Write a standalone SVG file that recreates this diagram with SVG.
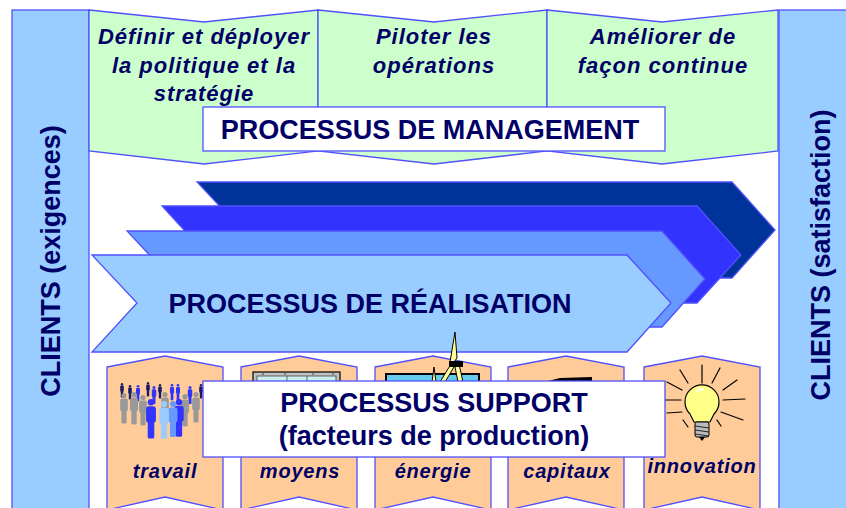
<svg xmlns="http://www.w3.org/2000/svg" xmlns:xlink="http://www.w3.org/1999/xlink" width="846" height="508" viewBox="0 0 846 508">
  <style>
    .edge { stroke: #5050FF; stroke-width: 1.3; stroke-linejoin: miter; }
    .bar { fill: #99CCFF; }
    .mgmt { fill: #CCFFCC; }
    .sup { fill: #FFCC99; }
    .box { fill: #FFFFFF; }
    .title { font-family: "Liberation Sans", Arial, sans-serif; font-weight: bold; font-size: 27px; fill: #000066; text-anchor: middle; }
    .ital { font-family: "Liberation Sans", Arial, sans-serif; font-weight: bold; font-style: italic; font-size: 22px; letter-spacing: 1px; fill: #000066; text-anchor: middle; }
    .lbl { font-family: "Liberation Sans", Arial, sans-serif; font-weight: bold; font-style: italic; font-size: 20px; letter-spacing: 0.8px; fill: #000066; text-anchor: middle; }
    .ink { stroke: #000000; stroke-width: 1.2; fill: none; stroke-linecap: round; }
  </style>
  <defs>
    <!-- simple standing figure, about 36 units tall -->
    <g id="person">
      <circle cx="0" cy="3" r="3"/>
      <rect x="-4.5" y="6.5" width="9" height="15" rx="2.5"/>
      <rect x="-3" y="19" width="6" height="17" rx="1.5"/>
    </g>
  </defs>

  <rect width="846" height="508" fill="#FFFFFF"/>

  <!-- customer bars -->
  <g id="clients-left">
    <rect class="bar edge" x="12" y="10" width="77" height="500"/>
    <text class="title" transform="translate(60 261) rotate(-90)">CLIENTS (exigences)</text>
  </g>
  <g id="clients-right">
    <rect class="bar edge" x="779" y="10" width="70" height="500"/>
    <text class="title" transform="translate(830 255) rotate(-90)">CLIENTS (satisfaction)</text>
  </g>

  <!-- management processes -->
  <g id="mgmt-definir">
    <polygon class="mgmt edge" points="89,10 204,22 318,10 318,151 204,164 89,151"/>
    <text class="ital" x="204" y="44">Définir et déployer</text>
    <text class="ital" x="204" y="73">la politique et la</text>
    <text class="ital" x="204" y="101">stratégie</text>
  </g>
  <g id="mgmt-piloter">
    <polygon class="mgmt edge" points="318,10 434,22 547,10 547,151 434,164 318,151"/>
    <text class="ital" x="434" y="44">Piloter les</text>
    <text class="ital" x="434" y="73">opérations</text>
  </g>
  <g id="mgmt-ameliorer">
    <polygon class="mgmt edge" points="547,10 662,22 778,10 778,151 662,164 547,151"/>
    <text class="ital" x="663" y="44">Améliorer de</text>
    <text class="ital" x="663" y="73">façon continue</text>
  </g>
  <g id="mgmt-title">
    <rect class="box edge" x="203" y="107" width="462" height="44"/>
    <text class="title" x="430" y="139">PROCESSUS DE MANAGEMENT</text>
  </g>

  <!-- realisation process: stacked chevrons -->
  <g id="realisation">
    <polygon class="edge" fill="#003399" points="197,182 732,182 775,230 732,278 197,278 242,230"/>
    <polygon class="edge" fill="#3333FF" points="162,206 697,206 741,255 697,303 162,303 207,255"/>
    <polygon class="edge" fill="#6699FF" points="127,231 662,231 705,279 662,327 127,327 172,279"/>
    <polygon class="edge" fill="#99CCFF" points="92,255 627,255 671,303 627,352 92,352 137,303"/>
    <text class="title" x="370" y="313">PROCESSUS DE RÉALISATION</text>
  </g>

  <!-- support factors -->
  <g id="support-travail">
    <polygon class="sup edge" points="107,367 165,356 223,367 223,510 165,497 107,510"/>
    <g fill="#1a1a66">
      <use xlink:href="#person" transform="translate(122 383) scale(0.4)"/>
      <use xlink:href="#person" transform="translate(130 385) scale(0.4)"/>
      <use xlink:href="#person" transform="translate(148 382) scale(0.4)"/>
      <use xlink:href="#person" transform="translate(160 384) scale(0.4)"/>
      <use xlink:href="#person" transform="translate(201 384) scale(0.4)"/>
    </g>
    <g fill="#3333FF">
      <use xlink:href="#person" transform="translate(138 385) scale(0.45)"/>
      <use xlink:href="#person" transform="translate(154 386) scale(0.5)"/>
      <use xlink:href="#person" transform="translate(172 384) scale(0.45)"/>
      <use xlink:href="#person" transform="translate(178 384) scale(0.45)"/>
      <use xlink:href="#person" transform="translate(190 386) scale(0.5)"/>
    </g>
    <g fill="#999999">
      <use xlink:href="#person" transform="translate(124 393) scale(0.85)"/>
      <use xlink:href="#person" transform="translate(134 392) scale(0.9)"/>
      <use xlink:href="#person" transform="translate(143 395) scale(0.85)"/>
      <use xlink:href="#person" transform="translate(165 392) scale(0.85)"/>
      <use xlink:href="#person" transform="translate(185 394) scale(0.9)"/>
      <use xlink:href="#person" transform="translate(196 392) scale(0.85)"/>
    </g>
    <use xlink:href="#person" fill="#3333FF" transform="translate(151 399) scale(1.1)"/>
    <use xlink:href="#person" fill="#3333FF" transform="translate(179 399) scale(1.05)"/>
    <use xlink:href="#person" fill="#6699FF" transform="translate(173 401) scale(1.0)"/>
    <use xlink:href="#person" fill="#99CCFF" transform="translate(164 401) scale(1.05)"/>
    <text class="lbl" x="165" y="478">travail</text>
  </g>
  <g id="support-moyens">
    <polygon class="sup edge" points="241,367 299,356 357,367 357,510 299,497 241,510"/>
    <rect x="253" y="372" width="87" height="20" fill="#C0C0C0" stroke="#000" stroke-width="1.2"/>
    <rect x="257" y="376" width="79" height="14" fill="#CCEEEE" stroke="#444" stroke-width="0.8"/>
    <line x1="287" y1="376" x2="287" y2="390" stroke="#444" stroke-width="0.8"/>
    <line x1="307" y1="376" x2="307" y2="390" stroke="#444" stroke-width="0.8"/>
    <g fill="#333">
      <circle cx="263" cy="374" r="0.8"/><circle cx="285" cy="374" r="0.8"/>
      <circle cx="313" cy="374" r="0.8"/><circle cx="333" cy="374" r="0.8"/>
    </g>
    <text class="lbl" x="300" y="478">moyens</text>
  </g>
  <g id="support-energie">
    <polygon class="sup edge" points="375,367 433,356 491,367 491,510 433,497 375,510"/>
    <rect x="386" y="374" width="93" height="20" fill="#66CCEE" stroke="#000" stroke-width="2"/>
    <g fill="#FFFF99" stroke="#000" stroke-width="1" stroke-linejoin="round">
      <polygon points="455,332 457,358 454,362 450,362"/>
      <polygon points="451,364 440,382 445,382 454,367"/>
      <polygon points="455,367 458,382 463,382 459,364"/>
      <polygon points="434,367 436,382 432,382"/>
    </g>
    <rect x="449" y="361" width="14" height="6" fill="#000"/>
    <text class="lbl" x="433" y="478">énergie</text>
  </g>
  <g id="support-capitaux">
    <polygon class="sup edge" points="508,367 566,356 624,367 624,510 566,497 508,510"/>
    <polygon points="544,382 560,378 592,377 592,382" fill="#000"/>
    <text class="lbl" x="567" y="478">capitaux</text>
  </g>
  <g id="support-innovation">
    <polygon class="sup edge" points="644,367 702,356 760,367 760,510 702,497 644,510"/>
    <g class="ink">
      <path d="M680,370 L688,383"/>
      <path d="M702,365 L702,383"/>
      <path d="M720,368 L712,383"/>
      <path d="M737,380 L723,390"/>
      <path d="M667,382 L682,390"/>
      <path d="M665,400 L681,400"/>
      <path d="M723,400 L745,399"/>
      <path d="M667,413 L682,412"/>
      <path d="M721,412 L743,420"/>
      <path d="M683,420 L688,427"/>
      <path d="M717,420 L721,426"/>
    </g>
    <path d="M690,414 A17,17 0 1 1 714,414 L710,422 L694,422 Z" fill="#FFFF88" stroke="#000" stroke-width="1.2"/>
    <path d="M696,392 Q699,388 704,390" stroke="#FFFFFF" stroke-width="2" fill="none"/>
    <rect x="695" y="422" width="14" height="15" rx="2" fill="#BBBBBB" stroke="#000" stroke-width="1"/>
    <path d="M695,426 L709,428 M695,430 L709,432 M695,434 L709,436" stroke="#000" stroke-width="0.8"/>
    <path d="M699,437 L705,437 L702,441 Z" fill="#000"/>
    <text class="lbl" x="702" y="473">innovation</text>
  </g>
  <g id="support-title">
    <rect class="box edge" x="203" y="381" width="462" height="76"/>
    <text class="title" x="434" y="412">PROCESSUS SUPPORT</text>
    <text class="title" x="434" y="445">(facteurs de production)</text>
  </g>
</svg>
